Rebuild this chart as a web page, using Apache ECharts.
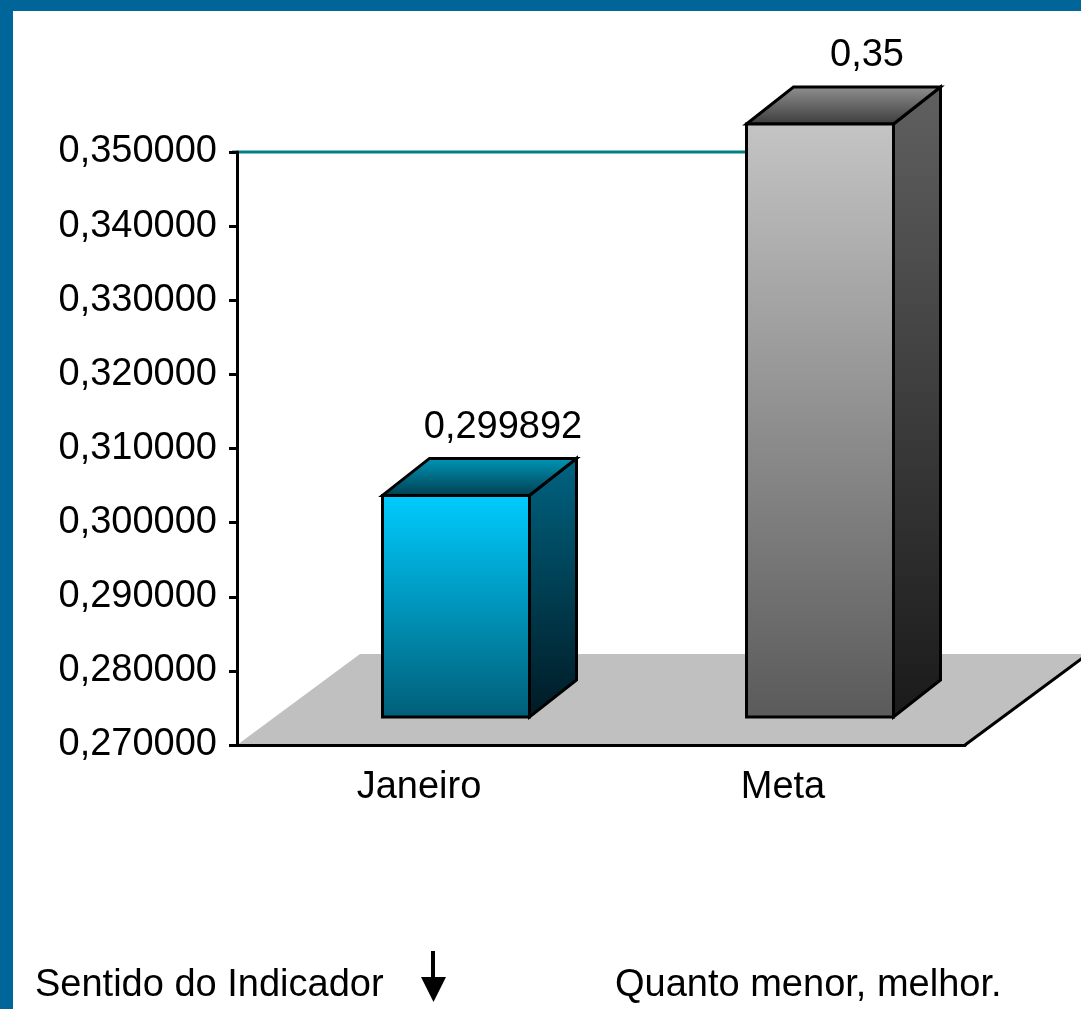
<!DOCTYPE html>
<html>
<head>
<meta charset="utf-8">
<script src="https://cdn.jsdelivr.net/npm/echarts@6/dist/echarts.min.js"></script>
<style>
  html, body { margin: 0; padding: 0; background: #fff; }
  #main { width: 1081px; height: 1009px; }
</style>
</head>
<body>
<div id="main"></div>
<script>
// chart data
const categories = ['Janeiro', 'Meta'];
const values = [0.299892, 0.35];
const axisMin = 0.27;
const axisMax = 0.35;
const axisStep = 0.01;
const targetValue = 0.35;
const footerLeft = 'Sentido do Indicador';
const footerRight = 'Quanto menor, melhor.';

// look of the 3D boxes
const barStyles = [
  { front: ['#00CCFF', '#005E78'], side: ['#006482', '#001A24'], top: ['#0098BA', '#003D4E'] },
  { front: ['#C4C4C4', '#5A5A5A'], side: ['#606060', '#1A1A1A'], top: ['#929292', '#3A3A3A'] }
];

const FONT = '"Liberation Sans", Arial, sans-serif';
const BAR_W = 147;      // front face width
const SHIFT_X = 37;     // front face offset from axis plane
const SHIFT_Y = 28;
const DEPTH_X = 47;     // box depth
const DEPTH_Y = 37;
const FLOOR_X = 123;    // floor depth
const FLOOR_Y = 91;

function fmt(v, digits) {
  const s = digits == null ? String(v) : v.toFixed(digits);
  return s.replace('.', ',');
}

function grad(stops) {
  return {
    type: 'linear', x: 0, y: 0, x2: 0, y2: 1,
    colorStops: [{ offset: 0, color: stops[0] }, { offset: 1, color: stops[1] }]
  };
}

function renderBox(params, api) {
  const idx = api.value(0);
  const val = api.value(1);
  const base = api.coord([idx, axisMin]);
  const top = api.coord([idx, val]);
  const st = barStyles[params.dataIndex];
  const cx = base[0] + SHIFT_X;
  const x0 = cx - BAR_W / 2, x1 = cx + BAR_W / 2;
  const y0 = top[1] - SHIFT_Y, y1 = base[1] - SHIFT_Y;
  const line = { stroke: '#000', lineWidth: 3, lineJoin: 'miter' };
  return {
    type: 'group',
    children: [
      {
        type: 'polygon',
        shape: { points: [[x1, y0], [x1 + DEPTH_X, y0 - DEPTH_Y], [x1 + DEPTH_X, y1 - DEPTH_Y], [x1, y1]] },
        style: Object.assign({ fill: grad(st.side) }, line)
      },
      {
        type: 'polygon',
        shape: { points: [[x0, y0], [x0 + DEPTH_X, y0 - DEPTH_Y], [x1 + DEPTH_X, y0 - DEPTH_Y], [x1, y0]] },
        style: Object.assign({ fill: grad(st.top) }, line)
      },
      {
        type: 'rect',
        shape: { x: x0, y: y0, width: BAR_W, height: y1 - y0 },
        style: Object.assign({ fill: grad(st.front) }, line)
      },
      {
        type: 'text',
        x: cx + DEPTH_X,
        y: y0 - DEPTH_Y - 12,
        style: {
          text: fmt(val),
          font: '38px ' + FONT,
          fill: '#000',
          align: 'center',
          verticalAlign: 'bottom'
        }
      }
    ]
  };
}

function renderFloor(params) {
  const cs = params.coordSys;
  const bx = cs.y + cs.height;
  const l = cs.x, r = cs.x + cs.width;
  return {
    type: 'group',
    children: [
      {
        type: 'polygon',
        shape: { points: [[l, bx], [r, bx], [r + FLOOR_X, bx - FLOOR_Y], [l + FLOOR_X, bx - FLOOR_Y]] },
        style: { fill: '#C0C0C0' }
      },
      {
        type: 'line',
        shape: { x1: r, y1: bx, x2: r + FLOOR_X, y2: bx - FLOOR_Y },
        style: { stroke: '#000', lineWidth: 3 }
      }
    ]
  };
}

function renderTarget(params, api) {
  const cs = params.coordSys;
  const p = api.coord([api.value(0), api.value(1)]);
  const end = p[0] + SHIFT_X - BAR_W / 2 + 3;
  return {
    type: 'line',
    shape: { x1: cs.x - 5, y1: p[1], x2: end, y2: p[1] },
    style: { stroke: '#008080', lineWidth: 3 }
  };
}

const chart = echarts.init(document.getElementById('main'));

const option = {
  backgroundColor: '#fff',
  animation: false,
  grid: { left: 237, right: 116, top: 152, bottom: 264, outerBoundsMode: 'none' },
  xAxis: {
    type: 'category',
    data: categories,
    z: 10,
    axisLine: { lineStyle: { color: '#000', width: 3 } },
    axisTick: { length: 8, lineStyle: { color: '#000', width: 3 } },
    axisLabel: { color: '#000', fontSize: 38, fontFamily: FONT, margin: 24 },
    splitLine: { show: false }
  },
  yAxis: {
    type: 'value',
    min: axisMin,
    max: axisMax,
    interval: axisStep,
    z: 10,
    axisLine: { show: true, lineStyle: { color: '#000', width: 3 } },
    axisTick: { show: true, length: 8, lineStyle: { color: '#000', width: 3 } },
    axisLabel: {
      color: '#000', fontSize: 38, fontFamily: FONT, margin: 20,
      padding: [0, 0, 12, 0],
      formatter: v => fmt(v, 6)
    },
    splitLine: { show: false }
  },
  series: [
    {
      type: 'custom',
      name: 'floor',
      z: 1,
      clip: false,
      silent: true,
      renderItem: renderFloor,
      data: [[0, axisMin]]
    },
    {
      type: 'custom',
      name: 'target',
      z: 1,
      clip: false,
      silent: true,
      renderItem: renderTarget,
      data: [[1, targetValue]]
    },
    {
      type: 'custom',
      name: 'values',
      z: 2,
      clip: false,
      renderItem: renderBox,
      encode: { x: 0, y: 1 },
      data: values.map((v, i) => [i, v])
    }
  ],
  graphic: [
    { type: 'rect', left: 0, top: 0, shape: { width: 13, height: 1009 }, style: { fill: '#006699' } },
    { type: 'rect', left: 0, top: 0, shape: { width: 1081, height: 11 }, style: { fill: '#006699' } },
    {
      type: 'text', left: 35, top: 967,
      style: { text: footerLeft, font: '38px ' + FONT, fill: '#000' }
    },
    {
      type: 'line', shape: { x1: 433, y1: 951, x2: 433, y2: 982 },
      style: { stroke: '#000', lineWidth: 4 }
    },
    {
      type: 'polygon', shape: { points: [[421, 977], [446, 977], [433.5, 1002]] },
      style: { fill: '#000' }
    },
    {
      type: 'text', left: 615, top: 967,
      style: { text: footerRight, font: '38px ' + FONT, fill: '#000' }
    }
  ]
};

chart.setOption(option);
</script>
</body>
</html>
